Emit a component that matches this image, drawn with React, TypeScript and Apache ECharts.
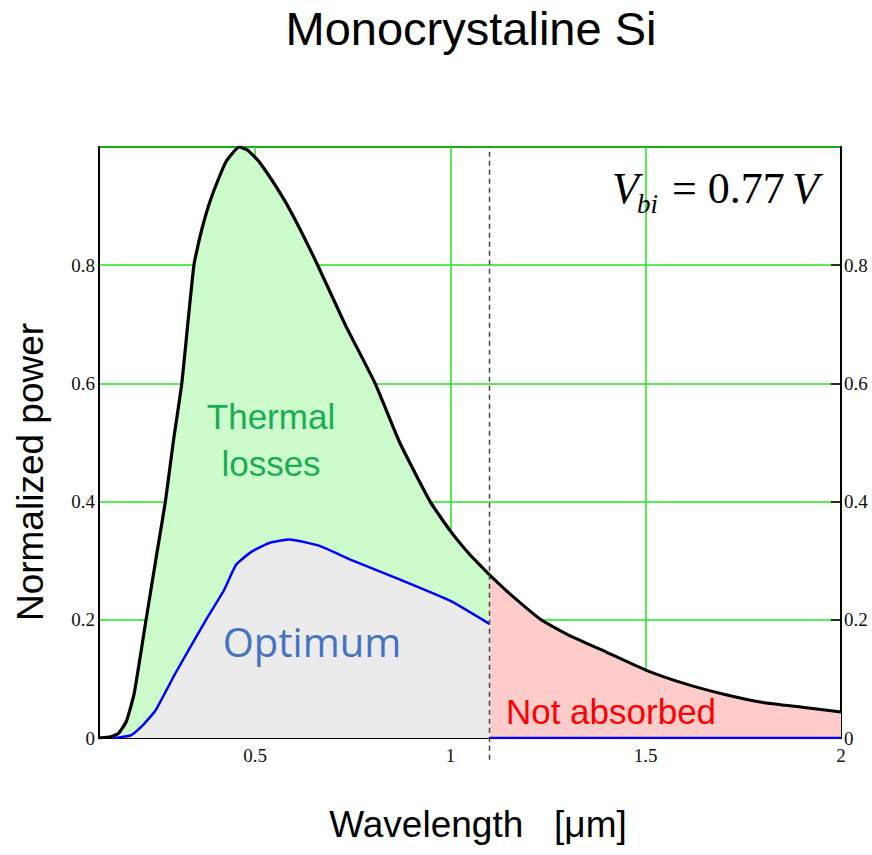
import React, { useEffect, useRef } from 'react';
import * as echarts from 'echarts';

// Normalized solar power spectrum (black curve)
const wavelength = [0.10, 0.13, 0.15, 0.17, 0.19, 0.22, 0.25, 0.27, 0.29, 0.312, 0.343, 0.363, 0.389, 0.425, 0.459, 0.48, 0.51, 0.562, 0.60, 0.66, 0.73, 0.807, 0.87, 0.948, 1.0, 1.05, 1.1, 1.15, 1.232, 1.3, 1.4, 1.5, 1.6, 1.7, 1.8, 1.9, 2.0];
const solarPower = [0, 0.002, 0.008, 0.028, 0.075, 0.198, 0.32, 0.40, 0.50, 0.60, 0.80, 0.86, 0.917, 0.975, 1.0, 0.995, 0.975, 0.924, 0.88, 0.80, 0.70, 0.60, 0.50, 0.40, 0.35, 0.31, 0.276, 0.245, 0.20, 0.175, 0.145, 0.115, 0.092, 0.074, 0.06, 0.052, 0.044];

// Optimum extracted power (blue curve)
const optWavelength = [0.137, 0.15, 0.183, 0.21, 0.245, 0.296, 0.374, 0.42, 0.451, 0.49, 0.536, 0.588, 0.665, 0.75, 0.871, 1.0, 1.1];
const optPower = [0, 0.001, 0.005, 0.02, 0.047, 0.11, 0.2, 0.25, 0.293, 0.315, 0.33, 0.336, 0.325, 0.30, 0.268, 0.232, 0.193];

const cutoff = 1.1; // band-gap cutoff wavelength (µm)
const xTicks = [0.5, 1, 1.5, 2];

export default function App() {
  const ref = useRef<HTMLDivElement>(null);

  useEffect(() => {
    document.body.style.margin = '0';
    const chart = echarts.init(ref.current!, null, { renderer: 'svg' });

    const solar = wavelength.map((x, i) => [x, solarPower[i]]);
    const absorbed = solar.filter(p => p[0] <= cutoff);
    const notAbsorbed = solar.filter(p => p[0] >= cutoff);
    const optimum = optWavelength.map((x, i) => [x, optPower[i]]);

    const labelFont = { fontFamily: 'Liberation Serif', fontSize: 19, color: '#111' };
    const green = '#1ee61e';
    const smooth = 0.15;

    chart.setOption({
      animation: false,
      title: {
        text: 'Monocrystaline Si',
        left: 466,
        textAlign: 'center',
        top: 0,
        textStyle: { fontFamily: 'Liberation Sans', fontSize: 47, fontWeight: 'normal', color: '#000' },
      },
      grid: {
        left: 99, right: 31, top: 147, bottom: 117,
        outerBoundsMode: 'none',
        containLabel: false,
        show: true, borderColor: '#000', borderWidth: 2, backgroundColor: 'transparent',
      },
      xAxis: {
        type: 'value',
        min: 0.1,
        max: 2,
        name: 'Wavelength\u00a0\u00a0 [μm]',
        nameLocation: 'middle',
        nameGap: 68,
        nameTextStyle: { fontFamily: 'Liberation Sans', fontSize: 37, color: '#000', padding: [0, 0, 0, 16] },
        axisLine: { show: true, onZero: false, lineStyle: { color: '#000', width: 2 } },
        axisTick: { show: false, customValues: xTicks },
        axisLabel: { ...labelFont, margin: 8, customValues: xTicks },
        splitLine: { show: true, lineStyle: { color: green, width: 1.5 } },
      },
      yAxis: [
        {
          type: 'value',
          min: 0,
          max: 1,
          interval: 0.2,
          position: 'left',
          axisLine: { show: true, lineStyle: { color: '#000', width: 2 } },
          axisTick: { show: false },
          axisLabel: { ...labelFont, margin: 4, showMaxLabel: false },
          splitLine: { show: true, lineStyle: { color: green, width: 1.5 } },
        },
        {
          type: 'value',
          min: 0,
          max: 1,
          interval: 0.2,
          position: 'right',
          axisLine: { show: true, lineStyle: { color: '#000', width: 2 } },
          axisTick: { show: true, inside: true, length: 10, lineStyle: { color: '#000', width: 1.5 } },
          axisLabel: { ...labelFont, margin: 3, showMaxLabel: false },
          splitLine: { show: false },
        },
      ],
      series: [
        {
          type: 'line',
          data: absorbed,
          smooth,
          symbol: 'none',
          lineStyle: { color: '#000', width: 3.2, join: 'round' },
          areaStyle: { color: '#ccfccc', opacity: 1 },
          z: 2,
        },
        {
          type: 'line',
          data: notAbsorbed,
          smooth,
          symbol: 'none',
          lineStyle: { color: '#000', width: 3, join: 'round' },
          areaStyle: { color: '#ffcccc', opacity: 1 },
          z: 2,
        },
        {
          type: 'line',
          data: optimum,
          smooth,
          symbol: 'none',
          lineStyle: { color: '#0000ff', width: 2.5, join: 'round' },
          areaStyle: { color: '#ebebeb', opacity: 1 },
          z: 3,
        },
        {
          type: 'line',
          data: [[cutoff, 0], [2, 0]],
          symbol: 'none',
          lineStyle: { color: '#0000ff', width: 2.5 },
          z: 4,
        },
        {
          type: 'line',
          data: [[cutoff, -0.037], [cutoff, 1]],
          clip: false,
          symbol: 'none',
          lineStyle: { color: '#444', width: 1.5, type: [5, 4] },
          z: 5,
        },
      ],
      graphic: [
        {
          type: 'text',
          x: 30,
          y: 472,
          rotation: Math.PI / 2,
          style: {
            text: 'Normalized power',
            x: 0,
            y: 0,
            align: 'center',
            verticalAlign: 'middle',
            fontFamily: 'Liberation Sans',
            fontSize: 37,
            fill: '#000',
          },
        },
        {
          type: 'text',
          style: {
            text: 'Thermal\nlosses',
            x: 271,
            y: 440,
            align: 'center',
            verticalAlign: 'middle',
            lineHeight: 47,
            fontFamily: 'Liberation Sans',
            fontSize: 35,
            fill: '#1aae52',
          },
          z: 10,
        },
        {
          type: 'text',
          style: {
            text: 'Optimum',
            x: 312,
            y: 641,
            align: 'center',
            verticalAlign: 'middle',
            fontFamily: 'Open Sans',
            fontSize: 40,
            fill: '#4472c4',
          },
          z: 10,
        },
        {
          type: 'text',
          style: {
            text: 'Not absorbed',
            x: 611,
            y: 711,
            align: 'center',
            verticalAlign: 'middle',
            fontFamily: 'Liberation Sans',
            fontSize: 35,
            fill: '#ff0000',
          },
          z: 10,
        },
        {
          type: 'text',
          style: {
            text: 'V',
            x: 612,
            y: 188,
            align: 'left',
            verticalAlign: 'middle',
            fontFamily: 'Liberation Serif',
            fontStyle: 'italic',
            fontSize: 44,
            fill: '#000',
          },
          z: 10,
        },
        {
          type: 'text',
          style: {
            text: 'bi',
            x: 637,
            y: 204,
            align: 'left',
            verticalAlign: 'middle',
            fontFamily: 'Liberation Serif',
            fontStyle: 'italic',
            fontSize: 27,
            fill: '#000',
          },
          z: 10,
        },
        {
          type: 'text',
          style: {
            text: '= 0.77',
            x: 672,
            y: 188,
            align: 'left',
            verticalAlign: 'middle',
            fontFamily: 'Liberation Serif',
            fontSize: 44,
            fill: '#000',
          },
          z: 10,
        },
        {
          type: 'text',
          style: {
            text: 'V',
            x: 819,
            y: 188,
            align: 'right',
            verticalAlign: 'middle',
            fontFamily: 'Liberation Serif',
            fontStyle: 'italic',
            fontSize: 44,
            fill: '#000',
          },
          z: 10,
        },
      ],
    });

    return () => chart.dispose();
  }, []);

  return <div ref={ref} style={{ width: 872, height: 855 }} />;
}
